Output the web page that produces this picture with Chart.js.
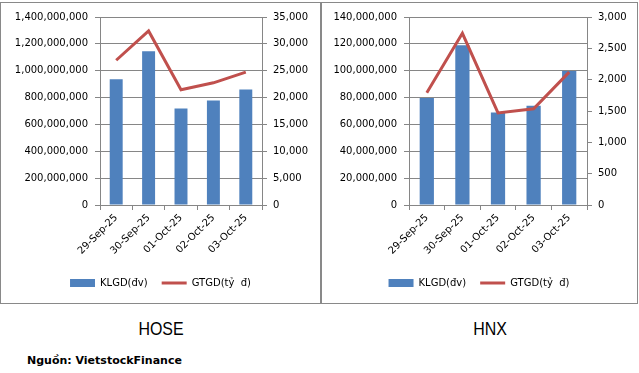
<!DOCTYPE html>
<html>
<head>
<meta charset="utf-8">
<script src="https://cdn.jsdelivr.net/npm/chart.js@4"></script>
<style>
  body { margin: 0; background: #fff; width: 639px; height: 373px; position: relative; overflow: hidden; }
  .panel { position: absolute; top: 2px; height: 302px; border: 1px solid #898989; box-sizing: border-box; }
  canvas { position: absolute; }
  .title { position: absolute; top: 318px; font-family: "Liberation Sans", sans-serif; font-size: 19px; color: #000; transform: translateX(-50%) scaleX(0.84); }
  .source { position: absolute; left: 27px; top: 354px; font-family: "DejaVu Sans", sans-serif; font-weight: bold; font-size: 11px; color: #000; }
</style>
</head>
<body>
<div class="panel" style="left:0px; width:321px;"></div>
<div class="panel" style="left:321px; width:317px;"></div>
<canvas id="hose" width="319" height="299" style="left:1px; top:3px;"></canvas>
<canvas id="hnx" width="314" height="299" style="left:322px; top:3px;"></canvas>
<div class="title" style="left:161px;">HOSE</div>
<div class="title" style="left:490px;">HNX</div>
<div class="source">Nguồn: VietstockFinance</div>
<script>
const dates = ['29-Sep-25', '30-Sep-25', '01-Oct-25', '02-Oct-25', '03-Oct-25'];

// HOSE
const hoseVolume = [936000000, 1145000000, 719000000, 779000000, 861000000];
const hoseValue = [26950, 32400, 21450, 22750, 24750];

// HNX
const hnxVolume = [79600000, 119000000, 68900000, 73900000, 99800000];
const hnxValue = [1790, 2740, 1470, 1535, 2120];

const volumeLabel = 'KLGD(đv)';
const valueLabel = 'GTGD(tỷ  đ)';

const FONT = { family: 'DejaVu Sans', size: 10 };
const GRID = '#868686';

function fmt(v) {
    return Number(v).toLocaleString('en-US');
}

function makeChart(id, volume, value, leftMax, leftStep, rightMax, rightStep, leftW, rightW) {
    const ctx = document.getElementById(id).getContext('2d');
    return new Chart(ctx, {
        type: 'bar',
        data: {
            labels: dates,
            datasets: [{
                label: volumeLabel,
                data: volume,
                backgroundColor: '#4F81BD',
                borderWidth: 0,
                barPercentage: 0.8,
                categoryPercentage: 0.5,
                yAxisID: 'y',
                order: 1
            }, {
                type: 'line',
                label: valueLabel,
                data: value,
                borderColor: '#C0504D',
                backgroundColor: '#C0504D',
                borderWidth: 3,
                pointRadius: 0,
                tension: 0,
                yAxisID: 'y1',
                order: 0
            }]
        },
        options: {
            responsive: false,
            animation: false,
            layout: { padding: { top: 14, bottom: 4, left: 0, right: 0 } },
            plugins: {
                tooltip: { enabled: false },
                legend: {
                    position: 'bottom',
                    labels: {
                        color: '#000',
                        font: FONT,
                        usePointStyle: true,
                        pointStyleWidth: 25,
                        boxHeight: 8,
                        padding: 14,
                        sort: (a, b) => a.datasetIndex - b.datasetIndex,
                        generateLabels: chart => {
                            const items = Chart.defaults.plugins.legend.labels.generateLabels(chart);
                            items.forEach(it => {
                                it.pointStyle = it.datasetIndex === 0 ? 'rect' : 'line';
                                if (it.datasetIndex === 0) it.lineWidth = 0;
                            });
                            return items;
                        }
                    }
                }
            },
            scales: {
                x: {
                    offset: true,
                    grid: { offset: true, drawOnChartArea: false, color: GRID, tickLength: 5 },
                    border: { color: GRID },
                    ticks: { color: '#000', font: FONT, minRotation: 45, maxRotation: 45, padding: 2 },
                    afterFit: s => { s.height = 59; }
                },
                y: {
                    position: 'left',
                    min: 0,
                    max: leftMax,
                    grid: { color: GRID, tickLength: 5 },
                    border: { color: GRID },
                    ticks: { stepSize: leftStep, color: '#000', font: FONT, padding: 7, callback: fmt },
                    afterFit: s => { s.width = leftW; }
                },
                y1: {
                    position: 'right',
                    min: 0,
                    max: rightMax,
                    grid: { drawOnChartArea: false, color: GRID, tickLength: 5 },
                    border: { color: GRID },
                    ticks: { stepSize: rightStep, color: '#000', font: FONT, padding: 6, callback: fmt },
                    afterFit: s => { s.width = rightW; }
                }
            }
        }
    });
}

makeChart('hose', hoseVolume, hoseValue, 1400000000, 200000000, 35000, 5000, 99, 58);
makeChart('hnx', hnxVolume, hnxValue, 140000000, 20000000, 3000, 500, 87, 49);
</script>
</body>
</html>
